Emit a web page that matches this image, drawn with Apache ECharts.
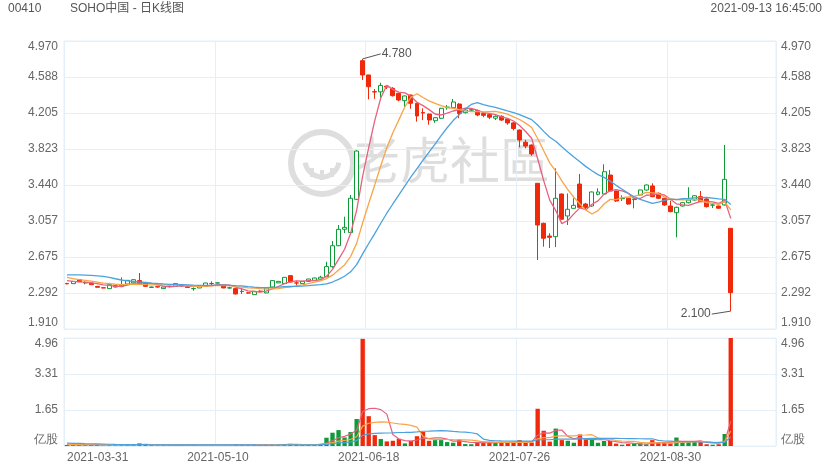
<!DOCTYPE html>
<html><head><meta charset="utf-8">
<script src="https://cdn.jsdelivr.net/npm/echarts@6/dist/echarts.min.js"></script>
<style>html,body{margin:0;padding:0;background:#fff}#c{width:840px;height:470px}</style>
</head><body><div id="c"></div>
<script>
const dates = [
'2021-03-31','2021-04-01','2021-04-07','2021-04-08','2021-04-09','2021-04-12','2021-04-13','2021-04-14','2021-04-15','2021-04-16',
'2021-04-19','2021-04-20','2021-04-21','2021-04-22','2021-04-23','2021-04-26','2021-04-27','2021-04-28','2021-04-29','2021-04-30',
'2021-05-03','2021-05-04','2021-05-05','2021-05-06','2021-05-07','2021-05-10','2021-05-11','2021-05-12','2021-05-13','2021-05-14',
'2021-05-17','2021-05-18','2021-05-20','2021-05-21','2021-05-24','2021-05-25','2021-05-26','2021-05-27','2021-05-28','2021-05-31',
'2021-06-01','2021-06-02','2021-06-03','2021-06-04','2021-06-07','2021-06-08','2021-06-09','2021-06-10','2021-06-11','2021-06-17',
'2021-06-18','2021-06-21','2021-06-22','2021-06-23','2021-06-24','2021-06-25','2021-06-28','2021-06-29','2021-06-30','2021-07-02',
'2021-07-05','2021-07-06','2021-07-07','2021-07-08','2021-07-09','2021-07-12','2021-07-13','2021-07-14','2021-07-15','2021-07-16',
'2021-07-19','2021-07-20','2021-07-21','2021-07-22','2021-07-23','2021-07-26','2021-07-27','2021-07-28','2021-07-29','2021-07-30',
'2021-08-02','2021-08-03','2021-08-04','2021-08-05','2021-08-06','2021-08-09','2021-08-10','2021-08-11','2021-08-12','2021-08-13',
'2021-08-16','2021-08-17','2021-08-18','2021-08-19','2021-08-20','2021-08-23','2021-08-24','2021-08-25','2021-08-26','2021-08-27',
'2021-08-30','2021-08-31','2021-09-01','2021-09-02','2021-09-03','2021-09-06','2021-09-07','2021-09-08','2021-09-09','2021-09-10',
'2021-09-13'];

const open = [
2.394,2.392,2.434,2.400,2.399,2.363,2.348,2.339,2.370,2.360,
2.388,2.400,2.424,2.399,2.352,2.360,2.339,2.365,2.363,2.372,
2.355,2.338,2.346,2.363,2.394,2.398,2.370,2.345,2.339,2.308,
2.294,2.275,2.312,2.293,2.356,2.400,2.392,2.477,2.400,2.392,
2.416,2.427,2.440,2.466,2.572,2.795,2.970,2.934,3.288,4.761,
4.609,4.432,4.430,4.490,4.467,4.414,4.336,4.396,4.308,4.210,
4.194,4.123,4.149,4.262,4.261,4.300,4.208,4.235,4.230,4.200,
4.190,4.150,4.170,4.140,4.100,4.024,3.894,3.865,3.458,3.033,
2.898,2.891,3.344,3.111,3.192,3.450,3.238,3.217,3.341,3.344,
3.546,3.376,3.295,3.299,3.285,3.334,3.387,3.430,3.352,3.299,
3.217,3.146,3.217,3.252,3.280,3.316,3.291,3.226,3.217,3.228,
2.980];
const close = [
2.390,2.416,2.413,2.402,2.381,2.353,2.346,2.381,2.356,2.375,
2.427,2.434,2.392,2.363,2.356,2.356,2.356,2.362,2.392,2.370,
2.352,2.340,2.370,2.399,2.392,2.400,2.346,2.348,2.282,2.310,
2.292,2.310,2.310,2.346,2.424,2.416,2.459,2.409,2.398,2.416,
2.441,2.452,2.460,2.573,2.795,2.969,2.990,3.299,3.801,4.609,
4.484,4.428,4.498,4.480,4.389,4.343,4.386,4.308,4.173,4.205,
4.131,4.155,4.255,4.268,4.322,4.200,4.237,4.240,4.184,4.180,
4.160,4.170,4.130,4.100,4.040,3.918,3.854,3.770,3.015,2.874,
2.884,3.299,3.076,3.182,3.224,3.203,3.200,3.366,3.366,3.581,
3.376,3.270,3.300,3.238,3.290,3.387,3.440,3.316,3.299,3.228,
3.157,3.203,3.252,3.280,3.326,3.263,3.210,3.228,3.193,3.500,
2.296];
const low = [
2.385,2.390,2.410,2.385,2.378,2.350,2.344,2.338,2.354,2.355,
2.385,2.398,2.390,2.360,2.348,2.350,2.336,2.352,2.360,2.360,
2.350,2.317,2.345,2.360,2.374,2.396,2.344,2.340,2.278,2.282,
2.285,2.273,2.300,2.290,2.354,2.398,2.390,2.405,2.363,2.390,
2.414,2.425,2.438,2.462,2.560,2.790,2.930,2.930,3.280,4.556,
4.350,4.356,4.370,4.460,4.380,4.330,4.270,4.250,4.113,4.130,
4.080,4.100,4.140,4.240,4.255,4.150,4.200,4.230,4.170,4.160,
4.140,4.130,4.120,4.080,4.020,3.840,3.830,3.750,2.643,2.785,
2.770,2.780,3.070,3.015,3.190,3.200,3.180,3.210,3.330,3.340,
3.370,3.260,3.270,3.230,3.192,3.330,3.380,3.310,3.290,3.220,
3.150,2.884,3.210,3.245,3.275,3.260,3.200,3.195,3.190,3.220,
2.100];
const high = [
2.400,2.420,2.440,2.415,2.400,2.366,2.350,2.400,2.372,2.459,
2.430,2.437,2.505,2.400,2.360,2.362,2.358,2.370,2.395,2.380,
2.357,2.352,2.372,2.400,2.416,2.402,2.372,2.360,2.340,2.339,
2.300,2.312,2.320,2.350,2.426,2.418,2.460,2.480,2.424,2.418,
2.443,2.455,2.475,2.625,2.845,3.015,3.103,3.334,3.810,4.780,
4.610,4.460,4.527,4.500,4.480,4.420,4.390,4.400,4.310,4.255,
4.200,4.160,4.260,4.290,4.354,4.310,4.245,4.250,4.240,4.210,
4.200,4.180,4.180,4.150,4.110,4.030,3.920,3.870,3.460,3.040,
2.927,3.617,3.350,3.350,3.300,3.557,3.250,3.370,3.405,3.660,
3.600,3.380,3.330,3.300,3.295,3.390,3.445,3.458,3.360,3.300,
3.273,3.210,3.260,3.416,3.330,3.376,3.300,3.235,3.220,3.865,
2.980];
// volume, 亿股
const volume = [
0.05,0.04,0.06,0.04,0.05,0.06,0.03,0.05,0.04,0.07,
0.06,0.05,0.12,0.06,0.04,0.03,0.04,0.03,0.05,0.04,
0.03,0.05,0.04,0.05,0.04,0.03,0.05,0.04,0.08,0.05,
0.04,0.05,0.04,0.06,0.09,0.05,0.08,0.10,0.05,0.05,
0.06,0.07,0.10,0.38,0.61,0.73,0.39,0.64,1.24,4.92,
1.37,0.50,0.32,0.21,0.24,0.33,0.12,0.24,0.45,0.65,
0.24,0.27,0.27,0.18,0.15,0.30,0.09,0.08,0.15,0.20,
0.18,0.15,0.16,0.16,0.16,0.27,0.18,0.16,1.71,0.70,
0.20,0.80,0.27,0.24,0.15,0.53,0.30,0.30,0.15,0.23,
0.23,0.11,0.06,0.09,0.11,0.12,0.08,0.27,0.17,0.18,
0.12,0.39,0.18,0.18,0.21,0.20,0.08,0.06,0.08,0.55,
4.96];
// closes / volumes of the 19 sessions before the window (estimated from where the MA lines start)
const priorCloses = [2.42,2.44,2.43,2.45,2.44,2.46,2.60,2.65,2.64,2.60,2.55,2.52,2.48,2.47,2.455,2.45,2.44,2.42,2.415];
const priorVolumes = [0.20,0.18,0.22,0.16,0.15,0.18,0.25,0.22,0.15,0.14,0.12,0.10,0.09,0.08,0.07,0.08,0.06,0.07,0.06];

const priceTicks = ['1.910','2.292','2.675','3.057','3.440','3.823','4.205','4.588','4.970'];
const volumeTicks = ['亿股','1.65','3.31','4.96'];
const maPeriods = [5, 10, 20];

const RED = '#f0290b', GREEN = '#0f9a38';
const MA_COLORS = ['#e8607c', '#f8a548', '#4aa2df'];
const GRID_C = '#e5eff7';
const TXT = '#666';
const WM = '#dedede';
const FONT = 'Arial, "Liberation Sans", sans-serif';

function movingAverage(vals, prior, n) {
  const all = prior.concat(vals);
  return vals.map((_, i) => {
    const j = i + prior.length;
    let s = 0;
    for (let k = j - n + 1; k <= j; k++) s += all[k];
    return +(s / n).toFixed(4);
  });
}

const SLOTS = 118;
const cats = dates.concat(new Array(SLOTS - dates.length).fill(''));
const kdata = open.map((o, i) => [o, close[i], low[i], high[i]]);

const chart = echarts.init(document.getElementById('c'), null, {renderer: 'canvas'});

const labelStyle = {color: TXT, fontSize: 12, fontFamily: FONT};

const option = {
  animation: false,
  backgroundColor: '#fff',
  grid: [
    {left: 64, right: 64, top: 41, height: 288, show: true, borderColor: GRID_C, borderWidth: 1},
    {left: 64, right: 64, top: 338, height: 108, show: true, borderColor: GRID_C, borderWidth: 1}
  ],
  xAxis: [
    {type: 'category', gridIndex: 0, data: cats, max: SLOTS - 1, boundaryGap: true,
     axisLine: {show: false}, axisTick: {show: false}, axisLabel: {show: false},
     splitLine: {show: true, interval: 24, lineStyle: {color: GRID_C, width: 1}}},
    {type: 'category', gridIndex: 1, data: cats, max: SLOTS - 1, boundaryGap: true,
     axisLine: {show: false}, axisTick: {show: false},
     axisLabel: Object.assign({interval: 24, margin: 6, alignMinLabel: 'left'}, labelStyle),
     splitLine: {show: true, interval: 24, lineStyle: {color: GRID_C, width: 1}}}
  ],
  yAxis: [
    {type: 'value', gridIndex: 0, min: 1.91, max: 4.97, show: false, splitLine: {show: false}},
    {type: 'value', gridIndex: 0, position: 'left', min: 0, max: 8, interval: 1,
     axisLine: {show: false}, axisTick: {show: false},
     axisLabel: Object.assign({margin: 6, formatter: v => priceTicks[Math.round(v)],
       verticalAlignMinLabel: 'bottom', verticalAlignMaxLabel: 'top'}, labelStyle),
     splitLine: {show: true, lineStyle: {color: GRID_C, width: 1}}},
    {type: 'value', gridIndex: 0, position: 'right', min: 0, max: 8, interval: 1,
     axisLine: {show: false}, axisTick: {show: false},
     axisLabel: Object.assign({margin: 5, formatter: v => priceTicks[Math.round(v)],
       verticalAlignMinLabel: 'bottom', verticalAlignMaxLabel: 'top'}, labelStyle),
     splitLine: {show: false}},
    {type: 'value', gridIndex: 1, min: 0, max: 4.96, show: false, splitLine: {show: false}},
    {type: 'value', gridIndex: 1, position: 'left', min: 0, max: 3, interval: 1,
     axisLine: {show: false}, axisTick: {show: false},
     axisLabel: Object.assign({margin: 6, formatter: v => volumeTicks[Math.round(v)],
       verticalAlignMinLabel: 'bottom', verticalAlignMaxLabel: 'top'}, labelStyle),
     splitLine: {show: true, lineStyle: {color: GRID_C, width: 1}}},
    {type: 'value', gridIndex: 1, position: 'right', min: 0, max: 3, interval: 1,
     axisLine: {show: false}, axisTick: {show: false},
     axisLabel: Object.assign({margin: 5, formatter: v => volumeTicks[Math.round(v)],
       verticalAlignMinLabel: 'bottom', verticalAlignMaxLabel: 'top'}, labelStyle),
     splitLine: {show: false}}
  ],
  graphic: [
    {type: 'text', id: 'code', left: 8, top: 3, style: {text: '00410', font: '12px ' + FONT, fill: '#555'}},
    {type: 'text', id: 'title', left: 70, top: 3, style: {text: 'SOHO中国 - 日K线图', font: '12px Arial, "Noto Sans CJK SC", sans-serif', fill: '#555'}},
    {type: 'text', id: 'time', right: 18, top: 3, style: {text: '2021-09-13 16:45:00', font: '12px ' + FONT, fill: '#555'}},
    {type: 'circle', id: 'wm1', shape: {cx: 322, cy: 163, r: 31}, style: {fill: 'none', stroke: WM, lineWidth: 6}},
    {type: 'arc', id: 'wm2', shape: {cx: 322, cy: 160, r: 17, startAngle: 0.15, endAngle: Math.PI - 0.15}, style: {fill: 'none', stroke: WM, lineWidth: 5}},
    {type: 'line', id: 'wm3', shape: {x1: 312, y1: 168, x2: 312, y2: 177}, style: {stroke: WM, lineWidth: 4}},
    {type: 'line', id: 'wm4', shape: {x1: 332, y1: 168, x2: 332, y2: 177}, style: {stroke: WM, lineWidth: 4}},
    {type: 'line', id: 'wm6', shape: {x1: 322, y1: 170, x2: 322, y2: 180}, style: {stroke: WM, lineWidth: 4}},
    {type: 'text', id: 'wm5', left: 350, top: 135, style: {text: '老虎社區', font: '50px "Noto Sans CJK SC", sans-serif', fill: WM}}
  ],
  series: [
    {type: 'candlestick', name: 'K', xAxisIndex: 0, yAxisIndex: 0, data: kdata, barWidth: '74%',
     itemStyle: {color: '#ffffff', color0: RED, borderColor: GREEN, borderColor0: RED, borderWidth: 1}},
  ].concat(maPeriods.map((n, k) => ({
     type: 'line', name: 'MA' + n, xAxisIndex: 0, yAxisIndex: 0, data: movingAverage(close, priorCloses, n),
     symbol: 'none', smooth: false, lineStyle: {color: MA_COLORS[k], width: 1.3}, z: 3
  }))).concat([
    {type: 'bar', name: 'VOL', xAxisIndex: 1, yAxisIndex: 3, data: volume, barWidth: '72%',
     itemStyle: {color: p => (close[p.dataIndex] >= open[p.dataIndex] ? GREEN : RED)}}
  ]).concat(maPeriods.map((n, k) => ({
     type: 'line', name: 'VMA' + n, xAxisIndex: 1, yAxisIndex: 3, data: movingAverage(volume, priorVolumes, n),
     symbol: 'none', smooth: false, lineStyle: {color: MA_COLORS[k], width: 1.2}, z: 3
  })))
};
chart.setOption(option);

// high / low annotations, positioned through the axes
const hiVal = Math.max.apply(null, high), hiIdx = high.indexOf(hiVal);
const loVal = Math.min.apply(null, low), loIdx = low.indexOf(loVal);
const ph = chart.convertToPixel({xAxisIndex: 0, yAxisIndex: 0}, [hiIdx, hiVal]);
const pl = chart.convertToPixel({xAxisIndex: 0, yAxisIndex: 0}, [loIdx, loVal]);
chart.setOption({graphic: [
  {type: 'line', id: 'hiLine', shape: {x1: ph[0], y1: ph[1], x2: ph[0] + 18, y2: ph[1] - 5}, style: {stroke: '#555', lineWidth: 1}, z: 10},
  {type: 'text', id: 'hiText', x: ph[0] + 19, y: ph[1] - 5, style: {text: hiVal.toFixed(3), font: '12px ' + FONT, fill: '#555', verticalAlign: 'middle', align: 'left'}, z: 10},
  {type: 'line', id: 'loLine', shape: {x1: pl[0], y1: pl[1], x2: pl[0] - 19, y2: pl[1] + 3}, style: {stroke: '#555', lineWidth: 1}, z: 10},
  {type: 'text', id: 'loText', x: pl[0] - 20, y: pl[1] + 3, style: {text: loVal.toFixed(3), font: '12px ' + FONT, fill: '#555', verticalAlign: 'middle', align: 'right'}, z: 10}
]});
</script>
</body></html>
